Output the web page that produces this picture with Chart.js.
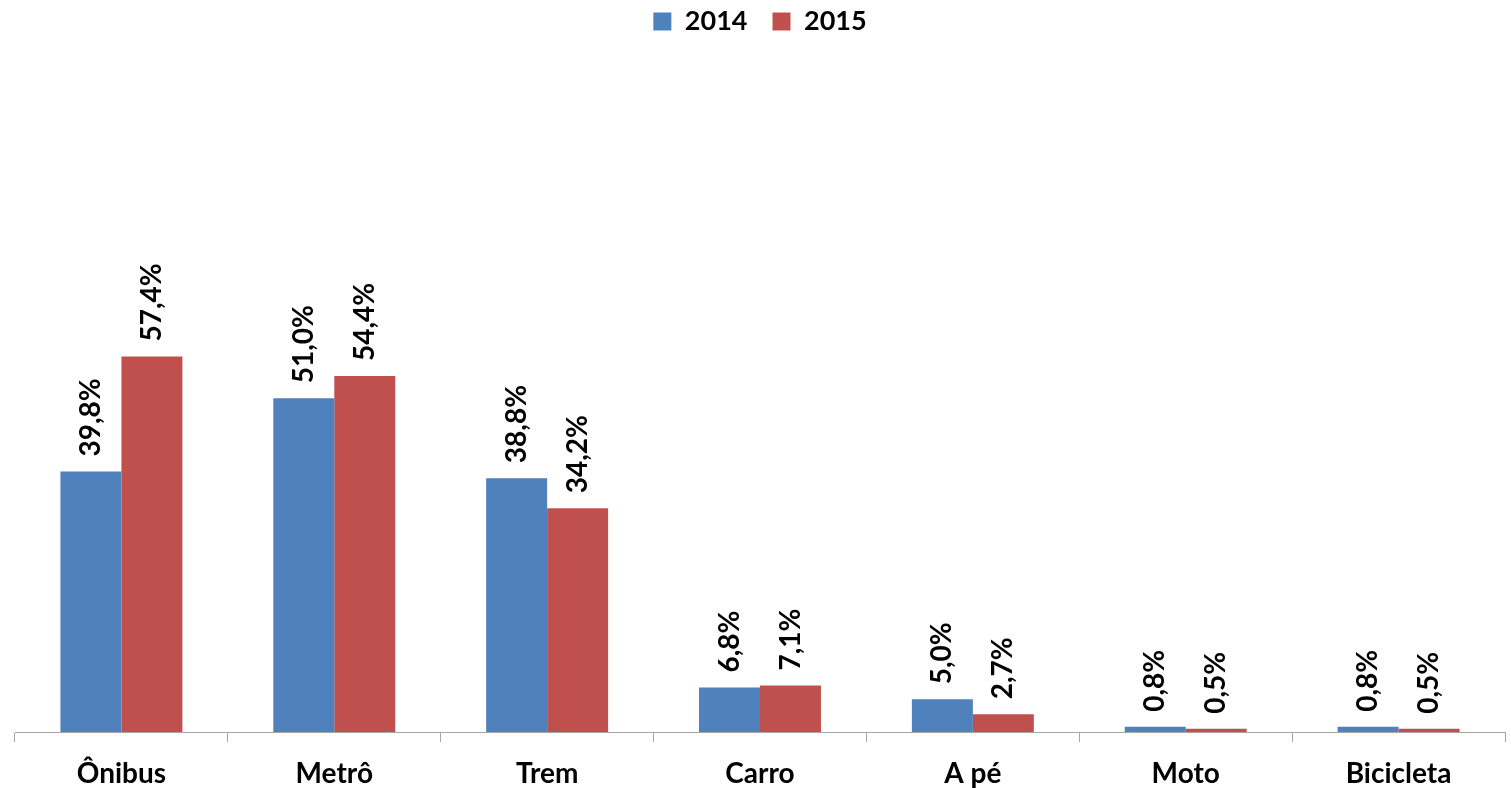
<!DOCTYPE html>
<html>
<head>
<meta charset="utf-8">
<script src="https://cdn.jsdelivr.net/npm/chart.js@4"></script>
<style>
  html, body { margin: 0; padding: 0; background: #fff; }
  #wrap { width: 1511px; height: 788px; }
</style>
</head>
<body>
<div id="wrap"><canvas id="chart"></canvas></div>
<script>
const categories = ['Ônibus', 'Metrô', 'Trem', 'Carro', 'A pé', 'Moto', 'Bicicleta'];
const values2014 = [39.8, 51.0, 38.8, 6.8, 5.0, 0.8, 0.8];
const values2015 = [57.4, 54.4, 34.2, 7.1, 2.7, 0.5, 0.5];

const blue = '#4F81BD';
const red = '#C0504D';
const fontFamily = 'Lato, "Open Sans", sans-serif';

// rotated value labels above each bar
const barLabels = {
    id: 'barLabels',
    afterDatasetsDraw(chart) {
        const ctx = chart.ctx;
        ctx.save();
        ctx.font = 'bold 28px ' + fontFamily;
        ctx.fillStyle = '#000';
        ctx.textAlign = 'left';
        ctx.textBaseline = 'middle';
        chart.data.datasets.forEach((ds, i) => {
            const meta = chart.getDatasetMeta(i);
            meta.data.forEach((bar, j) => {
                const txt = ds.data[j].toFixed(1).replace('.', ',') + '%';
                ctx.save();
                ctx.translate(bar.x, bar.y - 15);
                ctx.rotate(-Math.PI / 2);
                ctx.fillText(txt, 0, 0);
                ctx.restore();
            });
        });
        ctx.restore();
    }
};

new Chart(document.getElementById('chart'), {
    type: 'bar',
    data: {
        labels: categories,
        datasets: [
            { label: '2014', data: values2014, backgroundColor: blue },
            { label: '2015', data: values2015, backgroundColor: red }
        ]
    },
    options: {
        responsive: true,
        maintainAspectRatio: false,
        animation: false,
        datasets: { bar: { categoryPercentage: 0.573, barPercentage: 1 } },
        layout: { padding: { left: 15, right: 6, top: -17, bottom: -18 } },
        plugins: {
            legend: {
                position: 'top',
                labels: {
                    color: '#000',
                    boxWidth: 18,
                    boxHeight: 18,
                    padding: 25,
                    font: { family: fontFamily, size: 27, weight: 'bold' }
                }
            },
            tooltip: { enabled: false }
        },
        scales: {
            x: {
                grid: { drawOnChartArea: false, drawTicks: true, tickLength: 10, color: '#A6A6A6' },
                border: { color: '#A6A6A6' },
                ticks: {
                    color: '#000',
                    padding: 18,
                    maxRotation: 0,
                    font: { family: fontFamily, size: 28, weight: 'bold', lineHeight: 1 }
                }
            },
            y: {
                display: false,
                min: 0,
                max: 105
            }
        }
    },
    plugins: [barLabels]
});
</script>
</body>
</html>
